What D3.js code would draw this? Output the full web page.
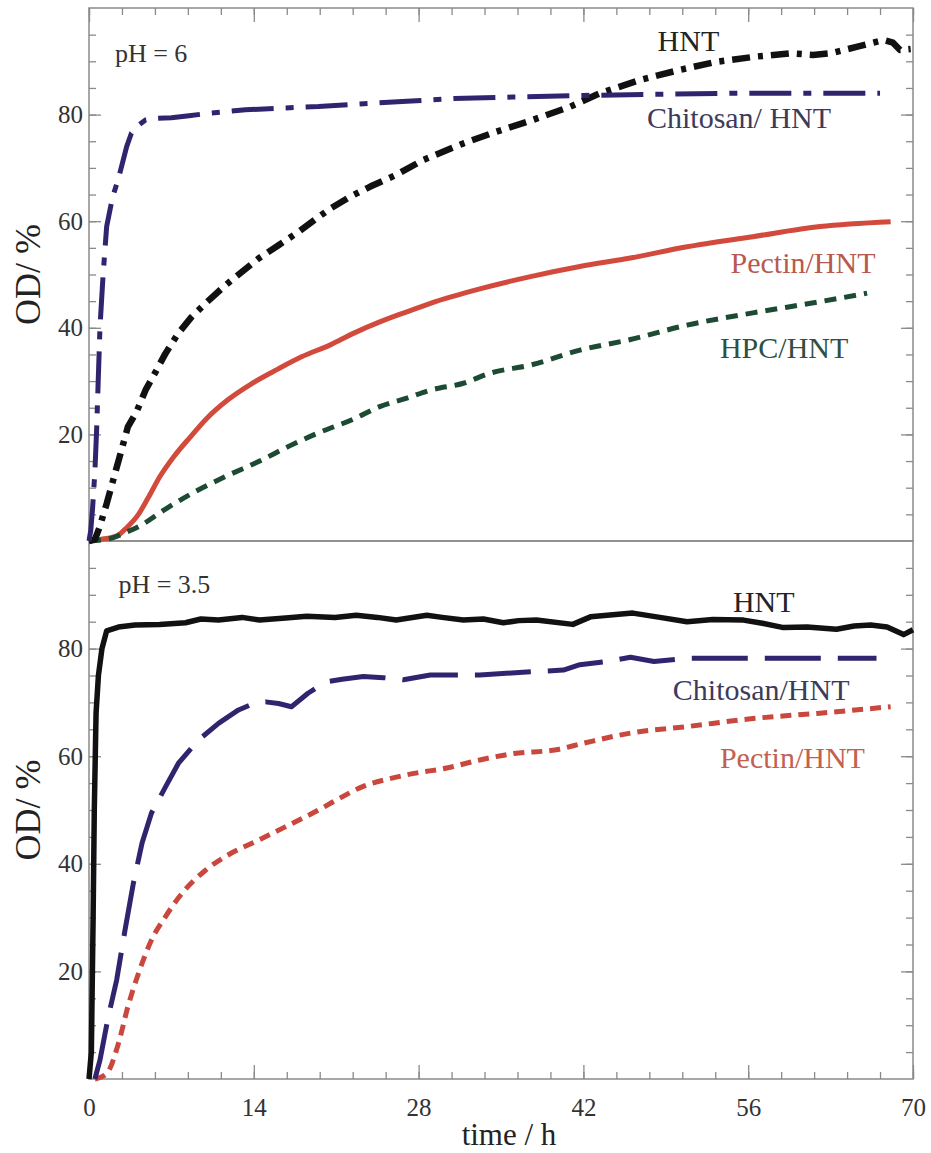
<!DOCTYPE html>
<html>
<head>
<meta charset="utf-8">
<script src="https://cdn.jsdelivr.net/npm/d3@7"></script>
<style>
  body { margin: 0; background: #fff; }
  svg { display: block; font-family: "Liberation Serif", "Times New Roman", serif; }
</style>
</head>
<body>
<div id="chart"></div>
<script>
// Optical density (%) against time (h), two pH conditions
// each series: [time h, OD %]

// pH = 6
const chitosanPH6 = [[0,0],[0.15,2],[0.3,6],[0.5,13],[0.65,21],[0.93,40],[1.2,50],[1.5,59],[2.0,64.5],[2.5,68],[3.2,74],[3.6,76.5],[4.2,78],[4.8,79],[5.5,79.3],[7,79.4],[8.5,79.8],[10.4,80.3],[13.3,80.9],[16,81.2],[19.5,81.5],[23,82],[27,82.5],[31,83],[36,83.3],[42,83.6],[48,83.8],[55,84],[61,84],[67.2,84]];
const hntPH6 = [[0,0],[0.5,0.3],[0.9,2.6],[1.5,7],[2.0,11],[2.5,15],[3.3,21.4],[4.05,24.3],[4.8,28.3],[5.6,31.5],[6.5,35.2],[7.6,39],[8.7,42],[9.9,44.6],[11.6,48],[13.0,50.5],[14.4,53],[16.1,55.5],[17.8,58],[19.5,60.8],[20.6,62.5],[22.2,64.6],[23.9,66.5],[26.1,68.7],[28.4,71.5],[31.8,74.6],[34.6,76.8],[37.7,79],[40.9,81.5],[43.4,84],[46.8,86.5],[50.2,88.4],[53.3,89.9],[56.7,90.9],[59.6,91.5],[61.5,91.2],[63,91.5],[65.2,92.7],[67.5,94],[68.3,93.5],[68.9,92.1],[69.8,92.3]];
const pectinPH6 = [[0,0],[1,0.3],[2.4,1],[3.2,2.5],[4.2,5],[5,8],[6,12],[7.2,15.8],[8.6,19.5],[10,23],[11.8,26.5],[13.8,29.5],[16,32.2],[18.1,34.6],[20.5,36.8],[22.5,39],[24.7,41.1],[27,43],[29,44.6],[33.2,47.3],[37.5,49.6],[41.7,51.5],[46,53.1],[50.8,55.2],[56.4,57.1],[62.1,59],[68.1,59.9]];
const hpcPH6 = [[0,0],[1,0.2],[2,0.6],[3,1.5],[4.3,2.8],[6.5,6],[8.8,9],[11.5,12],[14.5,15],[17,17.8],[19.5,20.3],[22.4,22.8],[24.7,25.2],[27,26.8],[29,28.3],[31.8,29.6],[34.1,31.5],[37.5,33],[41.7,35.8],[46,37.8],[50.8,40.5],[56.4,42.8],[62.1,44.9],[66.1,46.5]];

// pH = 3.5
const hntPH35 = [[0,0],[0.2,5],[0.35,30],[0.45,50],[0.6,68],[0.8,75],[1.1,80],[1.5,83.3],[2.5,84],[3.9,84.4],[6,84.5],[8.2,84.8],[9.5,85.5],[11,85.3],[13,85.8],[14.5,85.3],[16.7,85.7],[18.5,86],[20.9,85.8],[22.7,86.2],[24.5,85.8],[26.1,85.3],[28.7,86.2],[30,85.8],[31.8,85.3],[33.5,85.5],[35.2,84.8],[36.5,85.2],[38,85.3],[41.1,84.5],[42.6,85.9],[44.5,86.3],[46.2,86.6],[48.5,85.8],[50.8,85],[53,85.4],[55.6,85.3],[57.2,84.7],[59,83.9],[61,84],[63.5,83.6],[65,84.2],[66.4,84.4],[67.8,84],[69.2,82.6],[70,83.5]];
const chitosanPH35 = [[0.5,0],[0.93,3.5],[1.64,11.6],[2.35,18.4],[3.06,27.7],[3.77,36.4],[4.5,43.8],[5.3,49.4],[6.5,54.3],[7.6,58.7],[9.3,63],[11,66.1],[12.7,68.6],[14,69.8],[15,70.1],[16.1,69.8],[17.2,69.2],[18.6,71.7],[20.1,73.8],[21.5,74.3],[23.3,74.8],[25,74.6],[26.7,74.2],[29,75.1],[33.2,75.1],[37.5,75.7],[40.3,76],[41.7,77],[44,77.6],[46,78.4],[48,77.6],[50.8,78.2],[56.4,78.2],[62,78.2],[66.9,78.2]];
const pectinPH35 = [[0.5,0],[1.5,1],[2.5,6.6],[3.3,13.4],[4.2,19.6],[5.3,25.8],[6.5,30.2],[7.9,34.5],[9.9,38.8],[12.1,42],[14.4,44.4],[16.7,46.9],[19.5,50],[20.9,51.7],[23.3,54.4],[25.5,55.8],[27.6,56.8],[30.4,57.8],[33.2,59.3],[36.1,60.5],[39.7,61.2],[42,62.4],[46,64.3],[50.8,65.5],[56.4,67],[62.1,68],[68.1,69.2]];

const xTickLabels = [0, 14, 28, 42, 56, 70];
const yTickLabels = [20, 40, 60, 80];

const width = 931, height = 1153;
const left = 89, right = 913;
const panelTop = [8, 541], panelBottom = [541, 1079];
const serif = '"Liberation Serif", "Times New Roman", serif';

const svg = d3.select("#chart").append("svg")
    .attr("width", width)
    .attr("height", height);

svg.append("rect").attr("width", width).attr("height", height).attr("fill", "#fff");

const x = d3.scaleLinear().domain([0, 70]).range([left, right]);
const yTop = d3.scaleLinear().domain([0, 100]).range([panelTop[1], panelTop[0]]);
const yBot = d3.scaleLinear().domain([0, 100]).range([panelBottom[1], panelBottom[0]]);

const frameColor = "#8a8a8a";
const minorX = d3.range(0, 70.01, 2.8);
const minorY = d3.range(5, 100, 5);

// axes for one panel: inward ticks on left and right, minor every 5 %
function drawPanelAxes(y) {
    const g = svg.append("g").attr("class", "axes");

    // left: minor ticks
    g.append("g").attr("transform", `translate(${left},0)`)
        .call(d3.axisLeft(y).tickValues(minorY).tickSize(-7).tickFormat(""));
    // left: labelled ticks
    g.append("g").attr("transform", `translate(${left},0)`)
        .call(d3.axisLeft(y).tickValues(yTickLabels).tickSize(-12).tickPadding(6));

    // right: minor + major, no labels
    g.append("g").attr("transform", `translate(${right},0)`)
        .call(d3.axisRight(y).tickValues(minorY).tickSize(-7).tickFormat(""));
    g.append("g").attr("transform", `translate(${right},0)`)
        .call(d3.axisRight(y).tickValues(yTickLabels).tickSize(-12).tickFormat(""));

    return g;
}

const axTop = drawPanelAxes(yTop);
// top edge of upper panel: downward ticks
axTop.append("g").attr("transform", `translate(0,${panelTop[0]})`)
    .call(d3.axisTop(x).tickValues(minorX).tickSize(-7).tickFormat(""));
axTop.append("g").attr("transform", `translate(0,${panelTop[0]})`)
    .call(d3.axisTop(x).tickValues(xTickLabels).tickSize(-14).tickFormat(""));

const axBot = drawPanelAxes(yBot);
axBot.append("g").attr("transform", `translate(0,${panelBottom[1]})`)
    .call(d3.axisBottom(x).tickValues(minorX).tickSize(-7).tickFormat(""));
axBot.append("g").attr("transform", `translate(0,${panelBottom[1]})`)
    .call(d3.axisBottom(x).tickValues(xTickLabels).tickSize(-14).tickPadding(19));

// common axis styling
svg.selectAll(".axes g")
    .attr("font-family", serif)
    .attr("font-size", 25);
svg.selectAll(".axes .domain").remove();
svg.selectAll(".axes .tick line").attr("stroke", frameColor).attr("stroke-width", 1.3);
svg.selectAll(".axes .tick text").attr("fill", "#333");

// frames
[panelTop, panelBottom].forEach(p => {
    svg.append("rect")
        .attr("x", left).attr("y", p[0])
        .attr("width", right - left).attr("height", p[1] - p[0])
        .attr("fill", "none")
        .attr("stroke", frameColor)
        .attr("stroke-width", 1.5);
});

// series
const series = [
    { data: pectinPH6,    y: yTop, color: "#d24a3c", w: 5,   dash: null,          curve: d3.curveMonotoneX },
    { data: hpcPH6,       y: yTop, color: "#1d4a32", w: 5,   dash: "12,8",        curve: d3.curveMonotoneX },
    { data: hntPH6,       y: yTop, color: "#111111", w: 6.5, dash: "18,8,5,8",    curve: d3.curveLinear },
    { data: chitosanPH6,  y: yTop, color: "#30246f", w: 5,   dash: "42,12,8,12",  curve: d3.curveLinear },
    { data: pectinPH35,   y: yBot, color: "#c9473d", w: 5,   dash: "11,7",        curve: d3.curveMonotoneX },
    { data: chitosanPH35, y: yBot, color: "#30246f", w: 5,   dash: "56,17",       curve: d3.curveLinear },
    { data: hntPH35,      y: yBot, color: "#111111", w: 5.5, dash: null,          curve: d3.curveLinear }
];

series.forEach(s => {
    const line = d3.line()
        .x(d => x(d[0]))
        .y(d => s.y(d[1]))
        .curve(s.curve);
    svg.append("path")
        .datum(s.data)
        .attr("d", line)
        .attr("fill", "none")
        .attr("stroke", s.color)
        .attr("stroke-width", s.w)
        .attr("stroke-linejoin", "round")
        .attr("stroke-dasharray", s.dash);
});

// in-plot annotations, placed in data units
const notes = [
    { text: "pH = 6",        t: 2.2,  v: 89.9, y: yTop, color: "#333",    size: 26 },
    { text: "HNT",           t: 48.3, v: 91.9, y: yTop, color: "#222",    size: 30 },
    { text: "Chitosan/ HNT", t: 47.4, v: 77.5, y: yTop, color: "#3d3b5c", size: 30 },
    { text: "Pectin/HNT",    t: 54.5, v: 50.3, y: yTop, color: "#b8594f", size: 30 },
    { text: "HPC/HNT",       t: 53.6, v: 34.3, y: yTop, color: "#2f5042", size: 30 },
    { text: "pH = 3.5",      t: 2.5,  v: 90.3, y: yBot, color: "#333",    size: 26 },
    { text: "HNT",           t: 54.7, v: 86.8, y: yBot, color: "#222",    size: 30 },
    { text: "Chitosan/HNT",  t: 49.6, v: 70.4, y: yBot, color: "#3d3b5c", size: 30 },
    { text: "Pectin/HNT",    t: 53.6, v: 57.8, y: yBot, color: "#c4604f", size: 30 }
];

svg.append("g").selectAll("text")
    .data(notes)
    .enter()
    .append("text")
    .attr("x", d => x(d.t))
    .attr("y", d => d.y(d.v))
    .attr("fill", d => d.color)
    .style("font-size", d => d.size + "px")
    .text(d => d.text);

// axis titles
[panelTop, panelBottom].forEach(p => {
    svg.append("text")
        .attr("transform", `translate(40,${(p[0] + p[1]) / 2}) rotate(-90)`)
        .attr("text-anchor", "middle")
        .attr("fill", "#222")
        .style("font-size", "36px")
        .text("OD/ %");
});

svg.append("text")
    .attr("x", 509)
    .attr("y", 1145)
    .attr("text-anchor", "middle")
    .attr("fill", "#222")
    .style("font-size", "31px")
    .text("time / h");
</script>
</body>
</html>
